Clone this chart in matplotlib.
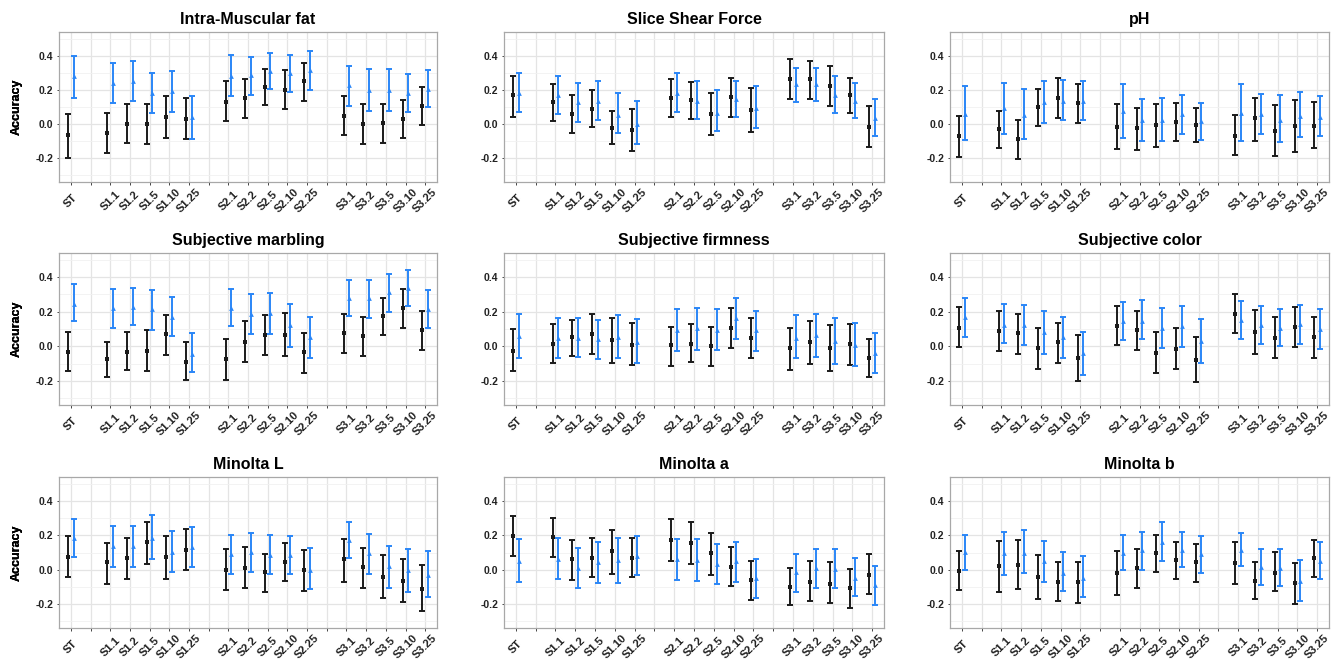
import matplotlib
matplotlib.use('Agg')
import matplotlib.pyplot as plt
from matplotlib.ticker import FixedLocator

plt.rcParams['font.family'] = ['Liberation Sans', 'DejaVu Sans']

# ---------------- data ----------------
groups = [['ST'],
          ['S1.1', 'S1.2', 'S1.5', 'S1.10', 'S1.25'],
          ['S2.1', 'S2.2', 'S2.5', 'S2.10', 'S2.25'],
          ['S3.1', 'S3.2', 'S3.5', 'S3.10', 'S3.25']]

titles = ['Intra-Muscular fat', 'Slice Shear Force', 'pH',
          'Subjective marbling', 'Subjective firmness', 'Subjective color',
          'Minolta L', 'Minolta a', 'Minolta b']

# Intra-Muscular fat
imf_black_mean = [-0.066, -0.05, 0.0, 0.0, 0.043, 0.03, 0.132, 0.155, 0.216, 0.2, 0.25, 0.05, 0.0, 0.006, 0.03, 0.103]
imf_black_lo = [-0.2, -0.17, -0.11, -0.115, -0.08, -0.09, 0.018, 0.037, 0.109, 0.09, 0.135, -0.062, -0.117, -0.111, -0.084, -0.004]
imf_black_hi = [0.06, 0.066, 0.115, 0.115, 0.165, 0.155, 0.25, 0.267, 0.323, 0.315, 0.36, 0.162, 0.115, 0.12, 0.142, 0.218]
imf_blue_mean = [0.28, 0.24, 0.25, 0.18, 0.195, 0.04, 0.28, 0.285, 0.31, 0.297, 0.317, 0.228, 0.2, 0.2, 0.185, 0.208]
imf_blue_lo = [0.155, 0.125, 0.135, 0.065, 0.068, -0.085, 0.167, 0.173, 0.204, 0.187, 0.2, 0.103, 0.078, 0.078, 0.068, 0.1]
imf_blue_hi = [0.40, 0.36, 0.37, 0.30, 0.31, 0.165, 0.405, 0.395, 0.418, 0.403, 0.426, 0.343, 0.325, 0.325, 0.296, 0.315]

# Slice Shear Force
ssf_black_mean = [0.17, 0.13, 0.06, 0.088, -0.021, -0.035, 0.15, 0.142, 0.057, 0.158, 0.084, 0.265, 0.265, 0.226, 0.17, -0.019]
ssf_black_lo = [0.04, 0.02, -0.05, -0.018, -0.12, -0.16, 0.04, 0.031, -0.062, 0.039, -0.049, 0.146, 0.148, 0.107, 0.064, -0.136]
ssf_black_hi = [0.279, 0.232, 0.168, 0.2, 0.076, 0.09, 0.263, 0.247, 0.18, 0.273, 0.214, 0.38, 0.372, 0.341, 0.273, 0.103]
ssf_blue_mean = [0.183, 0.17, 0.127, 0.133, 0.053, 0.002, 0.183, 0.136, 0.066, 0.146, 0.097, 0.232, 0.234, 0.17, 0.134, 0.033]
ssf_blue_lo = [0.07, 0.06, 0.012, 0.023, -0.053, -0.115, 0.07, 0.031, -0.041, 0.041, -0.025, 0.13, 0.138, 0.062, 0.037, -0.068]
ssf_blue_hi = [0.298, 0.28, 0.238, 0.253, 0.18, 0.133, 0.3, 0.251, 0.197, 0.255, 0.226, 0.331, 0.331, 0.283, 0.24, 0.148]

# pH
ph_black_mean = [-0.072, -0.027, -0.09, 0.1, 0.154, 0.123, -0.018, -0.021, -0.006, 0.012, -0.004, -0.068, 0.033, -0.043, -0.014, -0.014]
ph_black_lo = [-0.193, -0.14, -0.207, -0.014, 0.037, 0.008, -0.146, -0.152, -0.134, -0.101, -0.107, -0.183, -0.097, -0.187, -0.162, -0.14]
ph_black_hi = [0.047, 0.078, 0.023, 0.205, 0.27, 0.236, 0.119, 0.097, 0.119, 0.121, 0.095, 0.053, 0.152, 0.113, 0.142, 0.127]
ph_blue_mean = [0.06, 0.097, 0.055, 0.127, 0.138, 0.138, 0.078, 0.023, 0.025, 0.06, 0.016, 0.064, 0.058, 0.025, 0.049, 0.043]
ph_blue_lo = [-0.096, -0.057, -0.086, 0.004, 0.021, 0.023, -0.082, -0.1, -0.1, -0.057, -0.094, -0.1, -0.06, -0.107, -0.078, -0.072]
ph_blue_hi = [0.224, 0.24, 0.203, 0.25, 0.257, 0.255, 0.236, 0.146, 0.152, 0.168, 0.123, 0.232, 0.175, 0.173, 0.189, 0.166]

# Subjective marbling
marb_black_mean = [-0.033, -0.072, -0.031, -0.025, 0.072, -0.091, -0.075, 0.027, 0.064, 0.068, -0.035, 0.075, 0.062, 0.176, 0.222, 0.093]
marb_black_lo = [-0.141, -0.18, -0.137, -0.143, -0.05, -0.195, -0.193, -0.091, -0.052, -0.058, -0.157, -0.037, -0.054, 0.064, 0.108, -0.021]
marb_black_hi = [0.083, 0.027, 0.083, 0.093, 0.182, 0.023, 0.041, 0.145, 0.18, 0.191, 0.079, 0.188, 0.17, 0.282, 0.331, 0.203]
marb_blue_mean = [0.246, 0.219, 0.23, 0.213, 0.17, -0.043, 0.222, 0.186, 0.193, 0.122, 0.052, 0.282, 0.277, 0.315, 0.34, 0.215]
marb_blue_lo = [0.147, 0.108, 0.122, 0.093, 0.058, -0.151, 0.116, 0.072, 0.073, -0.004, -0.066, 0.174, 0.164, 0.201, 0.234, 0.106]
marb_blue_hi = [0.358, 0.331, 0.34, 0.325, 0.286, 0.075, 0.333, 0.3, 0.306, 0.246, 0.17, 0.381, 0.385, 0.416, 0.441, 0.325]

# Subjective firmness
firm_black_mean = [-0.025, 0.012, 0.052, 0.07, 0.039, 0.01, 0.008, 0.014, 0.002, 0.108, 0.05, -0.012, 0.023, -0.012, 0.015, -0.068]
firm_black_lo = [-0.141, -0.097, -0.056, -0.044, -0.095, -0.108, -0.112, -0.093, -0.112, -0.01, -0.068, -0.135, -0.1, -0.141, -0.106, -0.176]
firm_black_hi = [0.1, 0.128, 0.155, 0.188, 0.166, 0.133, 0.112, 0.13, 0.112, 0.224, 0.162, 0.108, 0.149, 0.122, 0.13, 0.043]
firm_blue_mean = [0.06, 0.046, 0.05, 0.041, 0.056, 0.027, 0.095, 0.104, 0.095, 0.162, 0.093, 0.05, 0.066, 0.029, 0.006, -0.041]
firm_blue_lo = [-0.066, -0.07, -0.064, -0.074, -0.068, -0.095, -0.029, -0.019, -0.019, 0.044, -0.027, -0.07, -0.064, -0.103, -0.116, -0.155]
firm_blue_hi = [0.188, 0.162, 0.164, 0.153, 0.18, 0.157, 0.215, 0.224, 0.213, 0.28, 0.205, 0.18, 0.188, 0.162, 0.133, 0.075]

# Subjective color
col_black_mean = [0.107, 0.091, 0.078, -0.01, 0.023, -0.068, 0.116, 0.093, -0.037, -0.014, -0.079, 0.188, 0.083, 0.05, 0.112, 0.052]
col_black_lo = [-0.004, -0.025, -0.047, -0.13, -0.099, -0.2, 0.008, -0.021, -0.155, -0.132, -0.205, 0.076, -0.045, -0.068, -0.006, -0.066]
col_black_hi = [0.225, 0.207, 0.186, 0.105, 0.132, 0.066, 0.231, 0.203, 0.081, 0.103, 0.054, 0.3, 0.211, 0.169, 0.229, 0.169]
col_blue_mean = [0.171, 0.126, 0.122, 0.083, 0.056, -0.041, 0.147, 0.147, 0.107, 0.116, 0.029, 0.151, 0.126, 0.105, 0.13, 0.099]
col_blue_lo = [0.054, 0.019, 0.01, -0.043, -0.066, -0.167, 0.039, 0.041, -0.012, -0.002, -0.095, 0.041, 0.012, 0.002, 0.016, -0.014]
col_blue_hi = [0.279, 0.244, 0.238, 0.205, 0.167, 0.085, 0.256, 0.266, 0.223, 0.234, 0.159, 0.26, 0.234, 0.213, 0.24, 0.213]

# Minolta L
mL_black_mean = [0.075, 0.042, 0.068, 0.159, 0.074, 0.116, 0.0, 0.01, -0.015, 0.044, -0.002, 0.062, 0.017, -0.044, -0.066, -0.11]
mL_black_lo = [-0.042, -0.081, -0.052, 0.033, -0.052, -0.004, -0.12, -0.106, -0.133, -0.068, -0.122, -0.071, -0.108, -0.168, -0.187, -0.243]
mL_black_hi = [0.197, 0.158, 0.187, 0.278, 0.198, 0.236, 0.12, 0.131, 0.091, 0.153, 0.116, 0.18, 0.124, 0.083, 0.062, 0.025]
mL_blue_mean = [0.183, 0.135, 0.135, 0.185, 0.105, 0.131, 0.093, 0.102, 0.087, 0.087, 0.0, 0.174, 0.097, 0.023, -0.004, -0.029]
mL_blue_lo = [0.073, 0.015, 0.015, 0.062, -0.016, 0.015, -0.023, -0.012, -0.027, -0.027, -0.11, 0.066, -0.023, -0.108, -0.129, -0.162]
mL_blue_hi = [0.297, 0.255, 0.255, 0.317, 0.227, 0.249, 0.203, 0.216, 0.203, 0.197, 0.124, 0.28, 0.208, 0.139, 0.12, 0.106]

# Minolta a
ma_black_mean = [0.196, 0.192, 0.06, 0.07, 0.111, 0.07, 0.173, 0.153, 0.095, 0.016, -0.06, -0.099, -0.072, -0.082, -0.107, -0.029]
ma_black_lo = [0.08, 0.074, -0.058, -0.045, -0.023, -0.045, 0.049, 0.031, -0.031, -0.097, -0.175, -0.206, -0.183, -0.192, -0.223, -0.144]
ma_black_hi = [0.311, 0.301, 0.175, 0.184, 0.231, 0.183, 0.293, 0.276, 0.216, 0.13, 0.05, 0.012, 0.05, 0.043, 0.004, 0.089]
ma_blue_mean = [0.05, 0.064, 0.01, 0.045, 0.058, 0.082, 0.06, 0.058, 0.033, 0.049, -0.05, -0.016, 0.008, 0.002, -0.047, -0.091]
ma_blue_lo = [-0.07, -0.052, -0.107, -0.078, -0.076, -0.029, -0.058, -0.064, -0.083, -0.074, -0.163, -0.132, -0.105, -0.107, -0.155, -0.206]
ma_blue_hi = [0.181, 0.183, 0.124, 0.159, 0.183, 0.196, 0.179, 0.179, 0.148, 0.163, 0.064, 0.093, 0.118, 0.12, 0.066, 0.021]

# Minolta b
mb_black_mean = [-0.008, 0.019, 0.025, -0.045, -0.072, -0.072, -0.017, 0.01, 0.095, 0.056, 0.043, 0.039, -0.066, -0.017, -0.08, 0.068]
mb_black_lo = [-0.118, -0.128, -0.113, -0.173, -0.181, -0.192, -0.148, -0.107, -0.012, -0.052, -0.074, -0.083, -0.169, -0.126, -0.2, -0.045]
mb_black_hi = [0.109, 0.165, 0.171, 0.083, 0.047, 0.045, 0.107, 0.122, 0.202, 0.163, 0.151, 0.163, 0.045, 0.101, 0.037, 0.175]
mb_blue_mean = [0.103, 0.095, 0.099, 0.049, -0.019, -0.047, 0.099, 0.113, 0.161, 0.115, 0.089, 0.113, 0.014, 0.01, -0.066, 0.052]
mb_blue_lo = [-0.002, -0.029, -0.021, -0.074, -0.126, -0.161, -0.002, -0.002, 0.049, 0.017, -0.017, 0.019, -0.087, -0.095, -0.183, -0.052]
mb_blue_hi = [0.202, 0.217, 0.231, 0.169, 0.105, 0.08, 0.202, 0.221, 0.278, 0.217, 0.198, 0.214, 0.122, 0.12, 0.054, 0.159]

panels = [
    (imf_black_mean, imf_black_lo, imf_black_hi, imf_blue_mean, imf_blue_lo, imf_blue_hi),
    (ssf_black_mean, ssf_black_lo, ssf_black_hi, ssf_blue_mean, ssf_blue_lo, ssf_blue_hi),
    (ph_black_mean, ph_black_lo, ph_black_hi, ph_blue_mean, ph_blue_lo, ph_blue_hi),
    (marb_black_mean, marb_black_lo, marb_black_hi, marb_blue_mean, marb_blue_lo, marb_blue_hi),
    (firm_black_mean, firm_black_lo, firm_black_hi, firm_blue_mean, firm_blue_lo, firm_blue_hi),
    (col_black_mean, col_black_lo, col_black_hi, col_blue_mean, col_blue_lo, col_blue_hi),
    (mL_black_mean, mL_black_lo, mL_black_hi, mL_blue_mean, mL_blue_lo, mL_blue_hi),
    (ma_black_mean, ma_black_lo, ma_black_hi, ma_blue_mean, ma_blue_lo, ma_blue_hi),
    (mb_black_mean, mb_black_lo, mb_black_hi, mb_blue_mean, mb_blue_lo, mb_blue_hi),
]

y_ticks = [-0.2, 0.0, 0.2, 0.4]
y_minor = [-0.3, -0.1, 0.1, 0.3, 0.5]

# ---------------- layout ----------------
W, H = 1344, 660
fig = plt.figure(figsize=(W / 100, H / 100), dpi=100)
fig.patch.set_facecolor('white')

col_left = [59, 504, 950]
col_width = [378, 380, 379]
row_top = [32, 253, 477]
row_bottom = [182, 405, 628]

# category positions on a discrete axis with one empty slot between groups
positions = []
tick_pos = []
tick_lab = []
p = 1
for gi, g in enumerate(groups):
    if gi > 0:
        tick_pos.append(p)
        tick_lab.append('')
        p += 1
    for name in g:
        positions.append(p)
        tick_pos.append(p)
        tick_lab.append(name)
        p += 1

BLACK = '#1a1a1a'
BLUE = '#2a86f7'
dodge = 0.14

for i, (title, data) in enumerate(zip(titles, panels)):
    r, c = divmod(i, 3)
    l, w = col_left[c], col_width[c]
    t, b = row_top[r], row_bottom[r]
    ax = fig.add_axes([l / W, 1 - b / H, w / W, (b - t) / H])
    bm, bl, bh, um, ul, uh = data

    xb = [x - dodge for x in positions]
    xu = [x + dodge for x in positions]
    ax.errorbar(xb, bm, yerr=[[m - lo for m, lo in zip(bm, bl)], [hi - m for m, hi in zip(bm, bh)]],
                fmt='none', ecolor=BLACK, elinewidth=1.4, capsize=2.3, capthick=1.4, zorder=3)
    ax.plot(xb, bm, 's', color=BLACK, ms=2.8, mew=0, zorder=4)
    ax.errorbar(xu, um, yerr=[[m - lo for m, lo in zip(um, ul)], [hi - m for m, hi in zip(um, uh)]],
                fmt='none', ecolor=BLUE, elinewidth=1.4, capsize=2.3, capthick=1.4, zorder=3)
    ax.plot(xu, um, '^', color=BLUE, ms=3.4, mew=0, zorder=4)

    ax.set_xlim(0.4, 19.6)
    ax.set_ylim(-0.34, 0.54)
    ax.set_axisbelow(True)

    ax.xaxis.set_major_locator(FixedLocator(tick_pos))
    ax.set_xticklabels(tick_lab, rotation=45, ha='center', va='center',
                       rotation_mode='anchor', fontweight='bold', fontsize=8, color='#222222')
    ax.yaxis.set_major_locator(FixedLocator(y_ticks))
    ax.yaxis.set_minor_locator(FixedLocator(y_minor))
    ax.set_yticklabels([f'{v:.1f}' for v in y_ticks], fontweight='bold', fontsize=7.5, color='#222222')

    ax.tick_params(axis='x', which='major', length=1.8, width=0.7, color='#444444', pad=11.8)
    ax.tick_params(axis='y', which='major', length=1.8, width=0.7, color='#444444', pad=2.2)
    ax.tick_params(axis='y', which='minor', length=0)

    ax.grid(which='major', color='#e4e4e4', lw=0.9)
    ax.grid(which='minor', axis='y', color='#f1f1f1', lw=0.6)

    for s in ax.spines.values():
        s.set_color('#a8a8a8')
        s.set_linewidth(0.9)

    ax.set_title(title, fontsize=11.5, fontweight='bold', pad=6)
    ax.text(-(l - 17) / w, 0.5, 'Accuracy', transform=ax.transAxes, rotation=90,
            ha='center', va='center', fontsize=9, fontweight='bold')

fig.savefig('out.png', dpi=100, facecolor='white')
